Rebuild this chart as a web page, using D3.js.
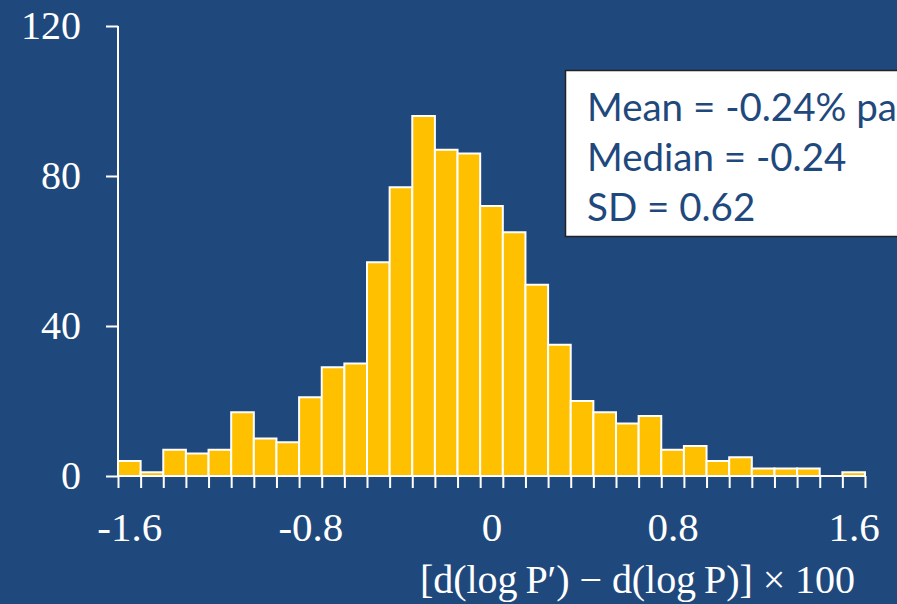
<!DOCTYPE html>
<html>
<head>
<meta charset="utf-8">
<script src="https://cdn.jsdelivr.net/npm/d3@7"></script>
<style>
html,body{margin:0;padding:0;background:#1f497d;}
svg{display:block;}
</style>
</head>
<body>
<svg id="chart" width="897" height="604"></svg>
<script>
// ---- data ----
const binCenters = [-1.6,-1.5,-1.4,-1.3,-1.2,-1.1,-1.0,-0.9,-0.8,-0.7,-0.6,-0.5,-0.4,-0.3,-0.2,-0.1,0,
                    0.1,0.2,0.3,0.4,0.5,0.6,0.7,0.8,0.9,1.0,1.1,1.2,1.3,1.4,1.5,1.6];
const counts = [4,1,7,6,7,17,10,9,21,29,30,57,77,96,87,86,72,65,51,35,20,17,14,16,7,8,4,5,2,2,2,0,1];
const binWidth = 0.1;
const xTickLabels = [-1.6,-0.8,0,0.8,1.6];
const yTickLabels = [0,40,80,120];
const statLines = ["Mean = -0.24% pa","Median = -0.24","SD = 0.62"];
const xTitle = "[d(log\u2009P\u2032) \u2212 d(log\u2009P)] \u00d7 100";

// ---- setup ----
const svg = d3.select("#chart");
const W = 897, H = 604;
svg.append("rect").attr("width",W).attr("height",H).attr("fill","#1f497d");

const x = d3.scaleLinear().domain([-1.65,1.65]).range([118,865]);
const y = d3.scaleLinear().domain([0,120]).range([476,26]);

const white = "#ffffff";
const serif = "'Liberation Serif','Times New Roman',serif";

// bars
svg.append("g").selectAll("rect").data(binCenters).join("rect")
  .attr("x",(d)=>x(d-binWidth/2))
  .attr("width",(d)=>x(d+binWidth/2)-x(d-binWidth/2))
  .attr("y",(d,i)=>y(counts[i]))
  .attr("height",(d,i)=>y(0)-y(counts[i]))
  .attr("fill","#ffc000")
  .attr("stroke",white)
  .attr("stroke-width",2);

// y axis
const yAxis = svg.append("g").attr("transform",`translate(${x(-1.65)},0)`)
  .call(d3.axisLeft(y).tickValues(yTickLabels).tickSize(12).tickPadding(25).tickFormat(d3.format("d")));
yAxis.select(".domain").attr("stroke",white).attr("stroke-width",2).attr("d",`M0,${y(120)}V${y(0)}`);
yAxis.selectAll(".tick line").attr("stroke",white).attr("stroke-width",2);
yAxis.selectAll(".tick text").attr("fill",white).style("font-family",serif).style("font-size","40px");

// x axis with ticks at bin edges
const edges = binCenters.map(d=>d-binWidth/2).concat([binCenters[binCenters.length-1]+binWidth/2]);
const xAxis = svg.append("g").attr("transform",`translate(0,${y(0)})`)
  .call(d3.axisBottom(x).tickValues(edges).tickSize(12).tickFormat(""));
xAxis.select(".domain").attr("stroke",white).attr("stroke-width",2).attr("d",`M${x(-1.65)},0H${x(1.65)}`);
xAxis.selectAll(".tick line").attr("stroke",white).attr("stroke-width",2);

// x labels
const xLab = svg.append("g").attr("transform",`translate(0,${y(0)})`)
  .call(d3.axisBottom(x).tickValues(xTickLabels).tickSize(0).tickPadding(36).tickFormat(d=>d===0?"0":String(d)));
xLab.select(".domain").remove();
xLab.selectAll(".tick text").attr("fill",white).style("font-family",serif).style("font-size","41px");

// x title
svg.append("text").attr("x",855).attr("y",593).attr("text-anchor","end")
  .attr("fill",white).style("font-family",serif).style("font-size","40px")
  .attr("textLength",435).attr("lengthAdjust","spacing").text(xTitle);

// stats box
const box = svg.append("g");
box.append("rect").attr("x",565.5).attr("y",70.5).attr("width",400).attr("height",166)
  .attr("fill","#ffffff").attr("stroke","#222").attr("stroke-width",1.5);
box.selectAll("text").data(statLines).join("text")
  .attr("x",587).attr("y",(d,i)=>121+i*50)
  .attr("fill","#1f497d")
  .style("font-family","Lato, 'Open Sans', sans-serif").style("font-size","38.5px")
  .text(d=>d);
</script>
</body>
</html>
